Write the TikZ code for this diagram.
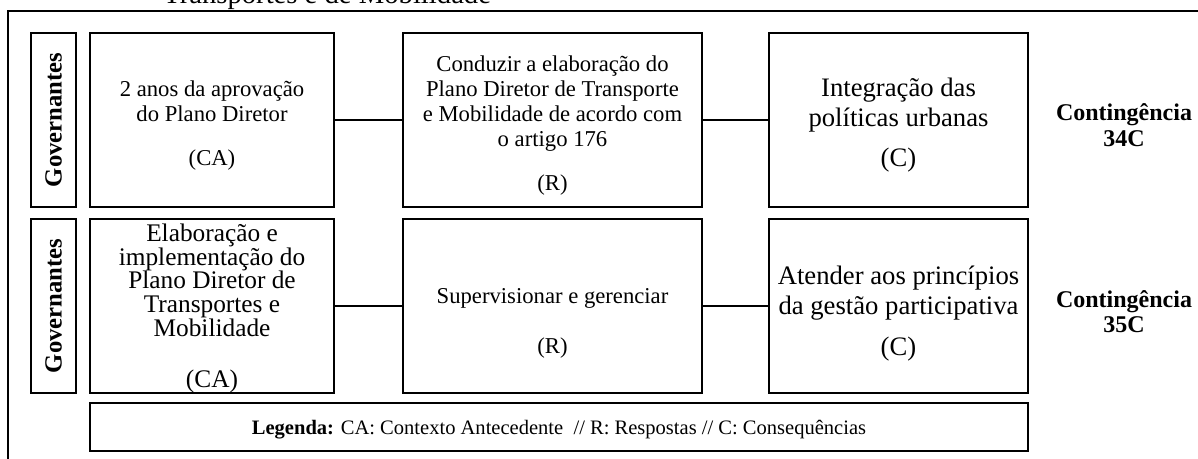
\documentclass[tikz,border=0pt]{standalone}
\usepackage{fontspec}
\setmainfont{Liberation Serif}
\newcommand\boxnode[5]{\node[bx, minimum width={(#4-#2)*0.75pt}, minimum height={(#5-#3)*0.75pt}] (#1) at ({(#2+#4)/2},{(#3+#5)/2}) {};}
\begin{document}
\begin{tikzpicture}[x=0.75pt,y=-0.75pt,
  bx/.style={draw,line width=1.4pt,inner sep=0pt,outer sep=0pt},
  conn/.style={line width=1.2pt},
  txt/.style={anchor=base,inner sep=0pt,font=\fontsize{17}{20}\selectfont},
  txtb/.style={anchor=base,inner sep=0pt,font=\fontsize{19}{22}\selectfont},
  txtc/.style={anchor=base,inner sep=0pt,font=\fontsize{20}{23}\selectfont},
  cont/.style={anchor=base,inner sep=0pt,font=\fontsize{18}{21}\selectfont\bfseries},
  gov/.style={rotate=90,inner sep=0pt,font=\fontsize{18.5}{21}\selectfont\bfseries},
  leg/.style={anchor=base,inner sep=0pt,font=\fontsize{15.4}{18}\selectfont}]
\useasboundingbox (0,0) rectangle (1198,459);
\begin{scope}
\clip (0,0) rectangle (1198,459);
\node[anchor=base west,inner sep=0pt,font=\fontsize{21.5}{24}\selectfont] (title) at (163,4) {Transportes e de Mobilidade};
\draw[line width=1.9pt] (8,480) -- (8,11) -- (1230,11);
\end{scope}
% row 1
\boxnode{g1}{31}{33}{76}{207}
\boxnode{ca1}{90}{33}{334}{207}
\boxnode{r1}{403}{33}{702}{207}
\boxnode{c1}{769}{33}{1028}{207}
% row 2
\boxnode{g2}{31}{219}{76}{393}
\boxnode{ca2}{90}{219}{334}{393}
\boxnode{r2}{403}{219}{702}{393}
\boxnode{c2}{769}{219}{1028}{393}
% legend
\boxnode{lg}{90}{403}{1028}{451}
\draw[conn] (ca1.east) -- (r1.west);
\draw[conn] (r1.east) -- (c1.west);
\draw[conn] (ca2.east) -- (r2.west);
\draw[conn] (r2.east) -- (c2.west);
% governantes
\node[gov] (gt1) at (g1.center) {Governantes};
\node[gov] (gt2) at (g2.center) {Governantes};
% row 1 texts
\node[txt] (a1) at (212,97) {2 anos da aprovação};
\node[txt] (a2) at (212,122) {do Plano Diretor};
\node[txt] (a3) at (212,166) {(CA)};
\node[txt] (b1) at (552.5,72) {Conduzir a elaboração do};
\node[txt] (b2) at (552.5,97) {Plano Diretor de Transporte};
\node[txt] (b3) at (552.5,122) {e Mobilidade de acordo com};
\node[txt] (b4) at (552.5,147) {o artigo 176};
\node[txt] (b5) at (552.5,191) {(R)};
\node[txtc] (c1a) at (898.5,97) {Integração das};
\node[txtc] (c1b) at (898.5,127) {políticas urbanas};
\node[txtc] (c1c) at (898.5,167) {(C)};
\node[cont] (k1a) at (1124,121) {Contingência};
\node[cont] (k1b) at (1124,147) {34C};
% row 2 texts
\node[txtb] (d1) at (212,242) {Elaboração e};
\node[txtb] (d2) at (212,265.5) {implementação do};
\node[txtb] (d3) at (212,289) {Plano Diretor de};
\node[txtb] (d4) at (212,312.5) {Transportes e};
\node[txtb] (d5) at (212,336) {Mobilidade};
\node[txtb] (d6) at (212,387) {(CA)};
\node[txt] (e1) at (552.5,304) {Supervisionar e gerenciar};
\node[txt] (e2) at (552.5,353) {(R)};
\node[txtc] (f1) at (898.5,285) {Atender aos princípios};
\node[txtc] (f2) at (898.5,315) {da gestão participativa};
\node[txtc] (f3) at (898.5,355) {(C)};
\node[cont] (k2a) at (1124,307) {Contingência};
\node[cont] (k2b) at (1124,333) {35C};
% legend text
\node[leg] (lt) at (559,434) {\textbf{Legenda:} CA: Contexto Antecedente \ // R: Respostas // C: Consequências};
\end{tikzpicture}
\end{document}
